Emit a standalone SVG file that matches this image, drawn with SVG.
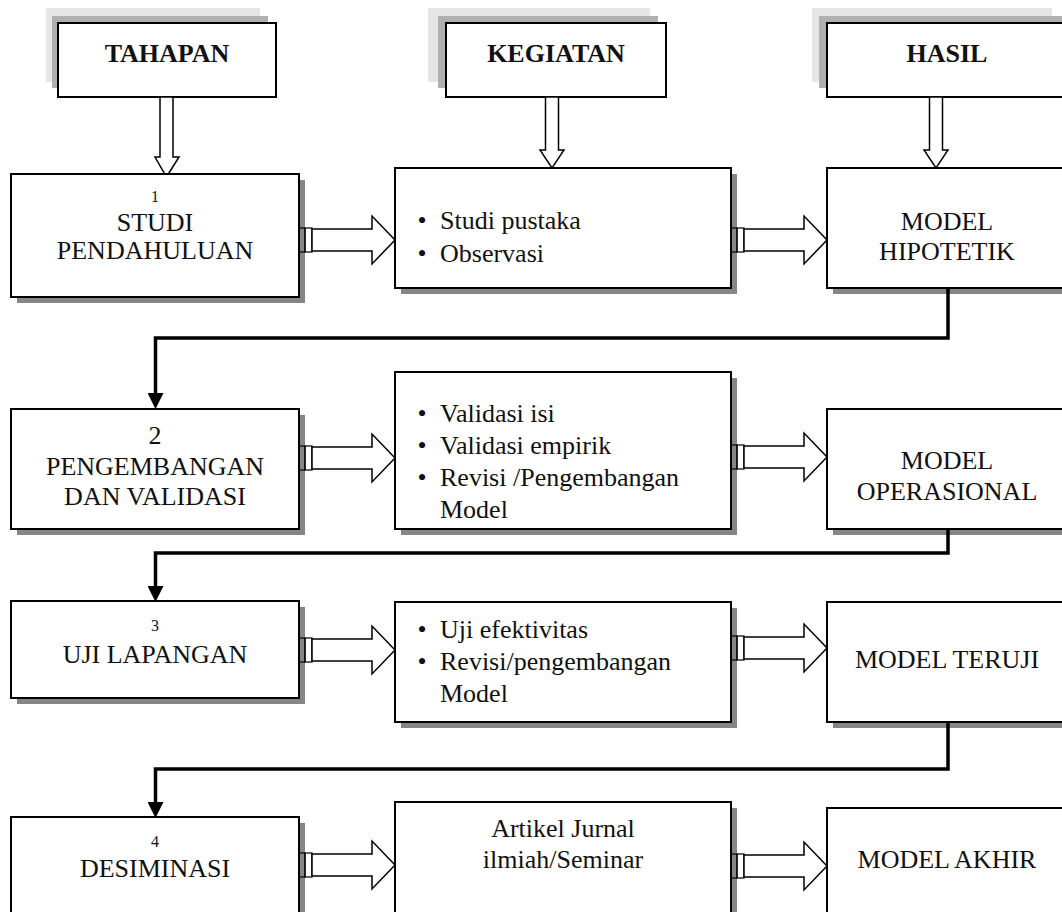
<svg xmlns="http://www.w3.org/2000/svg" width="1062" height="912" viewBox="0 0 1062 912">
<style>
.bg{fill:#fff}
.box{fill:#fff;stroke:#000;stroke-width:2}
.sh{fill:#868686}
.hl{fill:#e6e6e6}
.hd{fill:#b0b0b0}
.t{font-family:"Liberation Serif","Times New Roman",serif;font-size:26px;fill:#111}
.c{text-anchor:middle}
.b{font-weight:bold}
.n{font-size:16px}
.ha{fill:#fff;stroke:#000;stroke-width:1.5}
.sm{fill:none;stroke:#000;stroke-width:1.2}
.con{fill:none;stroke:#000;stroke-width:3.5}
</style>
<defs>
<marker id="ah" markerUnits="userSpaceOnUse" markerWidth="16" markerHeight="16" refX="0" refY="8" orient="auto">
<path d="M0,0 L16,8 L0,16 z" fill="#000"/>
</marker>
<g id="rarrow">
<rect class="sm" x="0" y="-12" width="6" height="24"/>
<rect class="sm" x="6" y="-12" width="7" height="24"/>
<path class="ha" d="M13,-11 H73 V-24 L96,0 L73,24 V11 H13 z"/>
</g>
<path id="darrow" class="ha" d="M-6.5,0 H6.5 V53 H12 L0,71 L-12,53 H-6.5 z"/>
</defs>
<rect class="bg" x="0" y="0" width="1062" height="912"/>

<g id="h1">
<rect class="hl" x="46" y="8" width="214" height="74"/>
<rect class="hd" x="52" y="16" width="216" height="72"/>
<rect class="box" x="58" y="23" width="218" height="74"/>
<text class="t b c" x="167" y="62">TAHAPAN</text>
</g>
<g id="h2">
<rect class="hl" x="428" y="8" width="222" height="74"/>
<rect class="hd" x="438" y="16" width="220" height="72"/>
<rect class="box" x="446" y="23" width="220" height="74"/>
<text class="t b c" x="556" y="62">KEGIATAN</text>
</g>
<g id="h3">
<rect class="hl" x="812" y="8" width="240" height="74"/>
<rect class="hd" x="819" y="16" width="260" height="72"/>
<rect class="box" x="827" y="23" width="250" height="74"/>
<text class="t b c" x="947" y="62">HASIL</text>
</g>

<g id="down-arrows">
<path class="ha" d="M160,97 H173 V157 H179 L166.5,177 L155,157 H160 z"/>
<use href="#darrow" x="552" y="97"/>
<use href="#darrow" x="936" y="97"/>
</g>

<g id="s1">
<rect class="sh" x="17" y="180" width="288" height="123"/>
<rect class="box" x="11" y="174" width="288" height="123"/>
<text class="t c n" x="155" y="202">1</text>
<text class="t c" x="155" y="231">STUDI</text>
<text class="t c" x="155" y="259">PENDAHULUAN</text>
</g>
<g id="k1">
<rect class="sh" x="401" y="174" width="336" height="120"/>
<rect class="box" x="395" y="168" width="336" height="120"/>
<text class="t c" x="422" y="229">•</text><text class="t" x="440" y="229">Studi pustaka</text>
<text class="t c" x="422" y="262">•</text><text class="t" x="440" y="262">Observasi</text>
</g>
<g id="r1">
<rect class="sh" x="833" y="174" width="250" height="120"/>
<rect class="box" x="827" y="168" width="250" height="120"/>
<text class="t c" x="947" y="230">MODEL</text>
<text class="t c" x="947" y="260">HIPOTETIK</text>
</g>

<g id="s2">
<rect class="sh" x="17" y="415" width="288" height="120"/>
<rect class="box" x="11" y="409" width="288" height="120"/>
<text class="t c" x="155" y="444">2</text>
<text class="t c" x="155" y="475">PENGEMBANGAN</text>
<text class="t c" x="155" y="505">DAN VALIDASI</text>
</g>
<g id="k2">
<rect class="sh" x="401" y="378" width="336" height="157"/>
<rect class="box" x="395" y="372" width="336" height="157"/>
<text class="t c" x="422" y="422">•</text><text class="t" x="440" y="422">Validasi isi</text>
<text class="t c" x="422" y="454">•</text><text class="t" x="440" y="454">Validasi empirik</text>
<text class="t c" x="422" y="486">•</text><text class="t" x="440" y="486">Revisi /Pengembangan</text>
<text class="t" x="440" y="518">Model</text>
</g>
<g id="r2">
<rect class="sh" x="833" y="415" width="250" height="120"/>
<rect class="box" x="827" y="409" width="250" height="120"/>
<text class="t c" x="947" y="469">MODEL</text>
<text class="t c" x="947" y="500">OPERASIONAL</text>
</g>

<g id="s3">
<rect class="sh" x="17" y="607" width="288" height="97"/>
<rect class="box" x="11" y="601" width="288" height="97"/>
<text class="t c n" x="155" y="631">3</text>
<text class="t c" x="155" y="663">UJI LAPANGAN</text>
</g>
<g id="k3">
<rect class="sh" x="401" y="608" width="336" height="120"/>
<rect class="box" x="395" y="602" width="336" height="120"/>
<text class="t c" x="422" y="638">•</text><text class="t" x="440" y="638">Uji efektivitas</text>
<text class="t c" x="422" y="670">•</text><text class="t" x="440" y="670">Revisi/pengembangan</text>
<text class="t" x="440" y="702">Model</text>
</g>
<g id="r3">
<rect class="sh" x="833" y="608" width="250" height="120"/>
<rect class="box" x="827" y="602" width="250" height="120"/>
<text class="t c" x="947" y="668">MODEL TERUJI</text>
</g>

<g id="s4">
<rect class="sh" x="17" y="823" width="288" height="120"/>
<rect class="box" x="11" y="817" width="288" height="120"/>
<text class="t c n" x="155" y="847">4</text>
<text class="t c" x="155" y="877">DESIMINASI</text>
</g>
<g id="k4">
<rect class="sh" x="401" y="808" width="336" height="130"/>
<rect class="box" x="395" y="802" width="336" height="130"/>
<text class="t c" x="563" y="837">Artikel Jurnal</text>
<text class="t c" x="563" y="868">ilmiah/Seminar</text>
</g>
<g id="r4">
<rect class="sh" x="833" y="814" width="250" height="120"/>
<rect class="box" x="827" y="808" width="250" height="120"/>
<text class="t c" x="947" y="868">MODEL AKHIR</text>
</g>

<g id="connectors">
<use href="#rarrow" x="299" y="240"/>
<use href="#rarrow" x="731" y="240"/>
<use href="#rarrow" x="299" y="458"/>
<use href="#rarrow" x="731" y="457"/>
<use href="#rarrow" x="299" y="650"/>
<use href="#rarrow" x="731" y="648"/>
<use href="#rarrow" x="299" y="865"/>
<use href="#rarrow" x="731" y="866"/>
<path class="con" d="M948,289 V338 H155.5 V393" marker-end="url(#ah)"/>
<path class="con" d="M948,530 V553 H155.5 V586" marker-end="url(#ah)"/>
<path class="con" d="M948,723 V769 H155.5 V802" marker-end="url(#ah)"/>
</g>
</svg>
